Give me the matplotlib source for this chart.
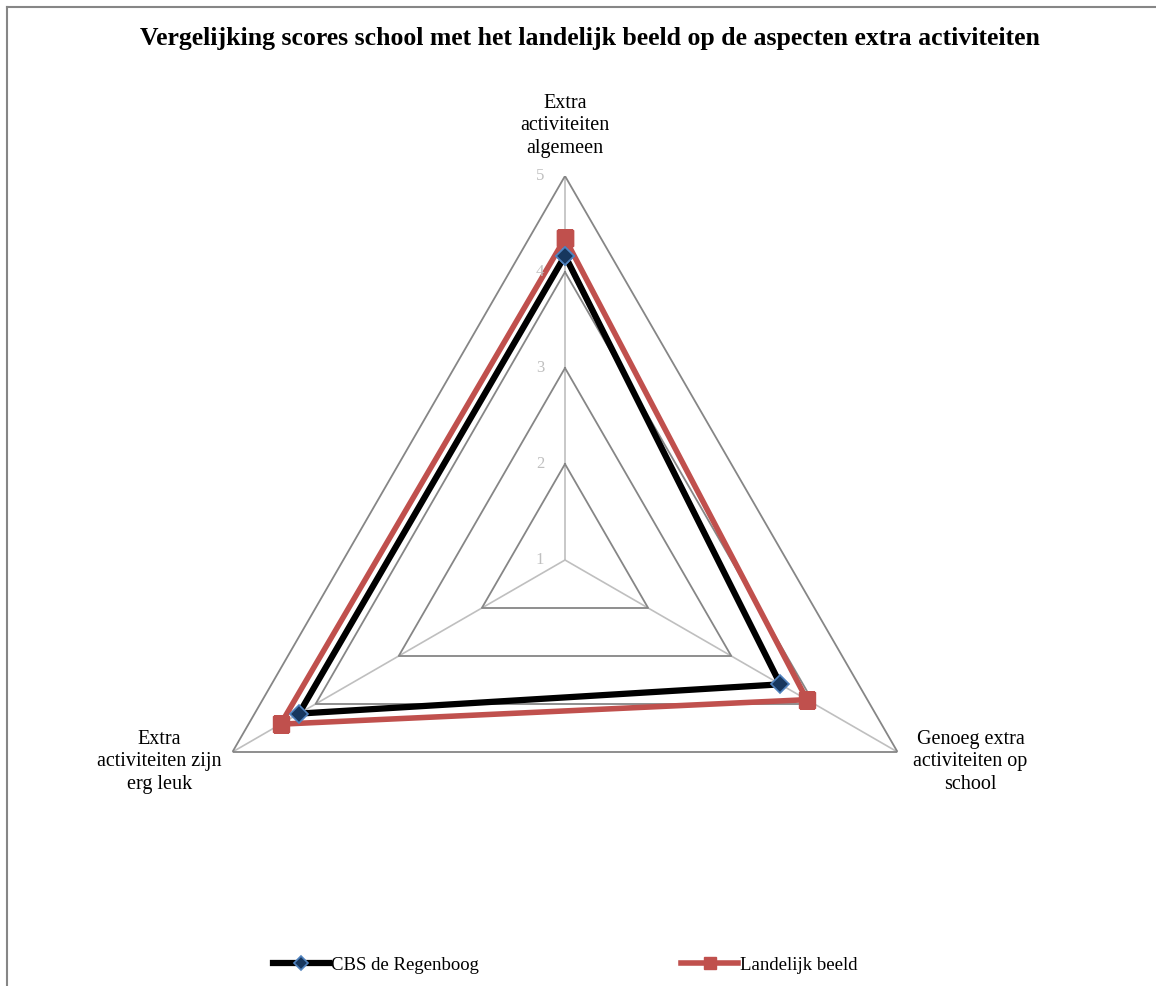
import matplotlib.pyplot as plt
import numpy as np
from matplotlib.lines import Line2D

#%% data
categories = ['Extra\nactiviteiten\nalgemeen',
              'Genoeg extra\nactiviteiten op\nschool',
              'Extra\nactiviteiten zijn\nerg leuk']
school = [4.17, 3.59, 4.2]
landelijk = [4.35, 3.91, 4.42]
rings = [2, 3, 4, 5]
tick_labels = ['1', '2', '3', '4', '5']
series_names = ['CBS de Regenboog', 'Landelijk beeld']

title = 'Vergelijking scores school met het landelijk beeld op de aspecten extra activiteiten'

plt.rcParams['font.family'] = ['Liberation Serif', 'DejaVu Serif']

#%% figure
fig = plt.figure(figsize=(11.56, 9.86), dpi=100)
ax = fig.add_axes([181/1156, 42/986, 768/1156, 768/986], projection='polar')
ax.set_theta_offset(np.pi/2)
ax.set_theta_direction(-1)
ax.set_ylim(1, 5)
ax.grid(False)
ax.spines['polar'].set_visible(False)
ax.set_xticks([])
ax.set_yticks([])
ax.patch.set_alpha(0)

n = len(categories)
theta = np.arange(n) * 2*np.pi/n
theta_c = np.append(theta, theta[0])

# spokes
for t in theta:
    ax.plot([t, t], [1, 5], color='#BFBFBF', lw=1.2, zorder=1)
# rings
for r in rings:
    ax.plot(theta_c, [r]*(n+1), color='#868686', lw=1.3, zorder=2)

# value labels on the top axis
for i, lab in enumerate(tick_labels):
    ax.annotate(lab, xy=(0, i+1), xytext=(-15, 0), textcoords='offset points',
                ha='right', va='center', fontsize=12, color='#BFBFBF', zorder=5)

# category labels
offsets = [(0, 13), (52.5, 16), (-52.5, 16)]
valign = ['bottom', 'top', 'top']
for t, lab, off, va in zip(theta, categories, offsets, valign):
    ax.annotate(lab, xy=(t, 5), xytext=off, textcoords='offset points',
                ha='center', va=va, fontsize=14.5, linespacing=1.25,
                annotation_clip=False)

ax.plot(theta_c, school + school[:1], color='black', lw=4.5,
        marker='D', markersize=9, markerfacecolor='#17375E',
        markeredgecolor='#4F81BD', markeredgewidth=1.2,
        label=series_names[0], zorder=4)
ax.plot(theta_c, landelijk + landelijk[:1], color='#C0504D', lw=4,
        marker='s', markersize=11, markerfacecolor='#C0504D',
        markeredgecolor='#C0504D', label=series_names[1], zorder=3)

fig.suptitle(title, x=590/1156, y=1-38/986, va='center',
             fontsize=18.5, fontweight='bold')

fig.legend(loc='center', bbox_to_anchor=(565/1156, 21/986), ncol=2,
           frameon=False, fontsize=13.5, handlelength=3.0, handletextpad=0.1,
           columnspacing=10.8, markerscale=0.8)

# chart border (left and top edge visible)
fig.add_artist(Line2D([6.5/1156, 6.5/1156], [0, 1-6.5/986], color='#868686', lw=1.5))
fig.add_artist(Line2D([6.5/1156, 1], [1-6.5/986, 1-6.5/986], color='#868686', lw=1.5))

fig.savefig('out.png', dpi=100)
